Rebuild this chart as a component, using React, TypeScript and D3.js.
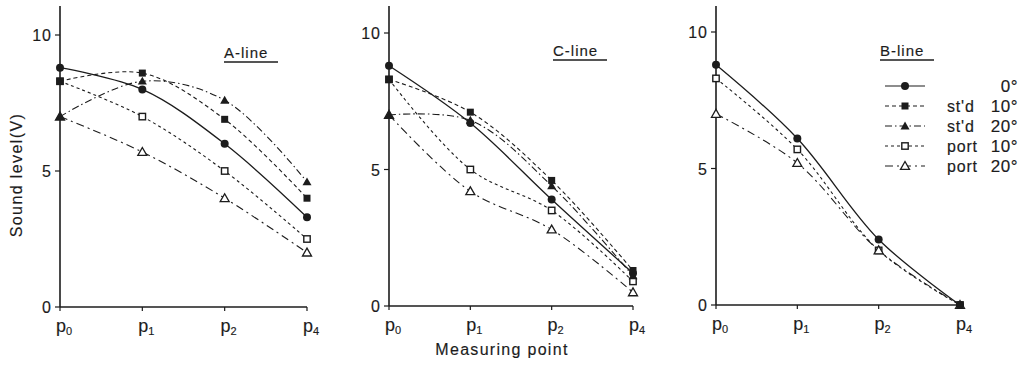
import React from "react";
import * as d3 from "d3";

const categories = ["p0", "p1", "p2", "p4"];
const yTicks = [0, 5, 10];

// A-line
const aDeg0 = [8.8, 8.0, 6.0, 3.3];
const aStd10 = [8.3, 8.6, 6.9, 4.0];
const aStd20 = [7.0, 8.3, 7.6, 4.6];
const aPort10 = [8.3, 7.0, 5.0, 2.5];
const aPort20 = [7.0, 5.7, 4.0, 2.0];
// C-line
const cDeg0 = [8.8, 6.7, 3.9, 1.2];
const cStd10 = [8.3, 7.1, 4.6, 1.3];
const cStd20 = [7.0, 6.8, 4.4, 1.1];
const cPort10 = [8.3, 5.0, 3.5, 0.9];
const cPort20 = [7.0, 4.2, 2.8, 0.5];
// B-line
const bDeg0 = [8.8, 6.1, 2.4, 0];
const bPort10 = [8.3, 5.7, 2.0, 0];
const bPort20 = [7.0, 5.2, 2.0, 0];

const seriesStyles: Record<string, { dash: string; marker: string }> = {
  deg0: { dash: "", marker: "circle" },
  std10: { dash: "4,3", marker: "square" },
  std20: { dash: "7,3,1.5,3", marker: "triangle" },
  port10: { dash: "3,3", marker: "osquare" },
  port20: { dash: "8,4,2,4", marker: "otriangle" },
};

const legendItems = [
  { key: "deg0", a: "", b: "0°" },
  { key: "std10", a: "st'd", b: "10°" },
  { key: "std20", a: "st'd", b: "20°" },
  { key: "port10", a: "port", b: "10°" },
  { key: "port20", a: "port", b: "20°" },
];

const INK = "#1c1c1c";
const FONT = "'Liberation Sans', Arial, sans-serif";
const txt = { fontFamily: FONT, fill: INK, stroke: INK, strokeWidth: 0.15 };

function Marker({ type, x, y }: { type: string; x: number; y: number }) {
  if (type === "circle") return <circle cx={x} cy={y} r={4} fill={INK} />;
  if (type === "square") return <rect x={x - 3.5} y={y - 3.5} width={7} height={7} fill={INK} />;
  if (type === "osquare")
    return <rect x={x - 3.2} y={y - 3.2} width={6.4} height={6.4} fill="white" stroke={INK} strokeWidth={1.4} />;
  const s = 4.5;
  const pts = `${x},${y - s} ${x - s},${y + s * 0.75} ${x + s},${y + s * 0.75}`;
  if (type === "triangle") return <polygon points={pts} fill={INK} />;
  return <polygon points={pts} fill="white" stroke={INK} strokeWidth={1.3} />;
}

function PLabel({ x, y, c }: { x: number; y: number; c: string }) {
  return (
    <text x={x} y={y} {...txt} fontSize={18} textAnchor="middle">
      <tspan>p</tspan>
      <tspan dy={3} fontSize={11}>{c.slice(1)}</tspan>
    </text>
  );
}

type Series = { key: string; values: number[] };

function Panel({
  x0, x1, y0, y10, title, titleX, titleY, series, showYLabel,
}: {
  x0: number; x1: number; y0: number; y10: number; title: string; titleX: number; titleY: number;
  series: Series[]; showYLabel?: boolean;
}) {
  const x = d3.scalePoint<string>().domain(categories).range([x0, x1]);
  const y = d3.scaleLinear().domain([0, 10]).range([y0, y10]);
  const line = d3
    .line<number>()
    .x((_, i) => x(categories[i]) as number)
    .y((d) => y(d))
    .curve(d3.curveCatmullRom.alpha(0.5));
  const order = [...series].sort((a, b) => {
    const rank = (k: string) => (k.startsWith("port") ? 0 : 1);
    return rank(a.key) - rank(b.key);
  });
  return (
    <g>
      <line x1={x0} x2={x0} y1={6} y2={y0} stroke={INK} strokeWidth={1.6} />
      <line x1={x0} x2={x1} y1={y0} y2={y0} stroke={INK} strokeWidth={1.4} />
      {yTicks.map((t) => (
        <g key={t}>
          <line x1={x0 - 5} x2={x0} y1={y(t)} y2={y(t)} stroke={INK} strokeWidth={1.2} />
          <text x={x0 - 8} y={y(t) + 6} textAnchor="end" {...txt} fontSize={16} letterSpacing={1}>
            {t}
          </text>
        </g>
      ))}
      {categories.map((c) => (
        <g key={c}>
          <line x1={x(c)} x2={x(c)} y1={y0} y2={y0 + 4} stroke={INK} strokeWidth={1.2} />
          <PLabel x={(x(c) as number) + 4} y={y0 + 25} c={c} />
        </g>
      ))}
      <text x={titleX} y={titleY} {...txt} fontSize={15} letterSpacing={1}>
        {title}
      </text>
      <line x1={titleX} x2={titleX + 54} y1={titleY + 4} y2={titleY + 4} stroke={INK} strokeWidth={1.4} />
      {order.map((s) => (
        <path
          key={s.key}
          d={line(s.values) || ""}
          fill="none"
          stroke={INK}
          strokeWidth={s.key === "deg0" ? 1.3 : 1.1}
          strokeDasharray={seriesStyles[s.key].dash}
        />
      ))}
      {order.map((s) =>
        s.values.map((v, i) => (
          <Marker key={s.key + i} type={seriesStyles[s.key].marker} x={x(categories[i]) as number} y={y(v)} />
        ))
      )}
      {showYLabel && (
        <text
          transform={`translate(22,${(y0 + y10) / 2 + 4}) rotate(-90)`}
          textAnchor="middle"
          {...txt}
          fontSize={16}
          letterSpacing={1.4}
        >
          Sound  level(V)
        </text>
      )}
    </g>
  );
}

export default function App() {
  const lx0 = 885;
  const lx1 = 925;
  const legendY = d3.scalePoint<string>().domain(legendItems.map((d) => d.key)).range([86, 166]);
  return (
    <svg width={1022} height={368} style={{ position: "absolute", left: 0, top: 0, background: "white" }}>
      <rect width={1022} height={368} fill="white" />
      <Panel
        x0={60} x1={307} y0={307} y10={35} title="A-line" titleX={224} titleY={58} showYLabel
        series={[
          { key: "deg0", values: aDeg0 },
          { key: "std10", values: aStd10 },
          { key: "std20", values: aStd20 },
          { key: "port10", values: aPort10 },
          { key: "port20", values: aPort20 },
        ]}
      />
      <Panel
        x0={389} x1={633} y0={306} y10={33} title="C-line" titleX={553} titleY={56}
        series={[
          { key: "deg0", values: cDeg0 },
          { key: "std10", values: cStd10 },
          { key: "std20", values: cStd20 },
          { key: "port10", values: cPort10 },
          { key: "port20", values: cPort20 },
        ]}
      />
      <Panel
        x0={716} x1={960} y0={305} y10={32} title="B-line" titleX={880} titleY={56}
        series={[
          { key: "deg0", values: bDeg0 },
          { key: "port10", values: bPort10 },
          { key: "port20", values: bPort20 },
        ]}
      />
      <text x={502} y={355} textAnchor="middle" {...txt} fontSize={16} letterSpacing={1.3}>
        Measuring point
      </text>
      {legendItems.map((it) => {
        const yy = legendY(it.key) as number;
        return (
          <g key={it.key}>
            <line x1={lx0} x2={lx1} y1={yy} y2={yy} stroke={INK} strokeWidth={1.1}
              strokeDasharray={seriesStyles[it.key].dash} />
            <Marker type={seriesStyles[it.key].marker} x={(lx0 + lx1) / 2} y={yy} />
            {it.a && (
              <text x={947} y={yy + 6} {...txt} fontSize={16} letterSpacing={0.8}>{it.a}</text>
            )}
            <text x={1018} y={yy + 6} textAnchor="end" {...txt} fontSize={17} letterSpacing={0.5}>{it.b}</text>
          </g>
        );
      })}
    </svg>
  );
}
